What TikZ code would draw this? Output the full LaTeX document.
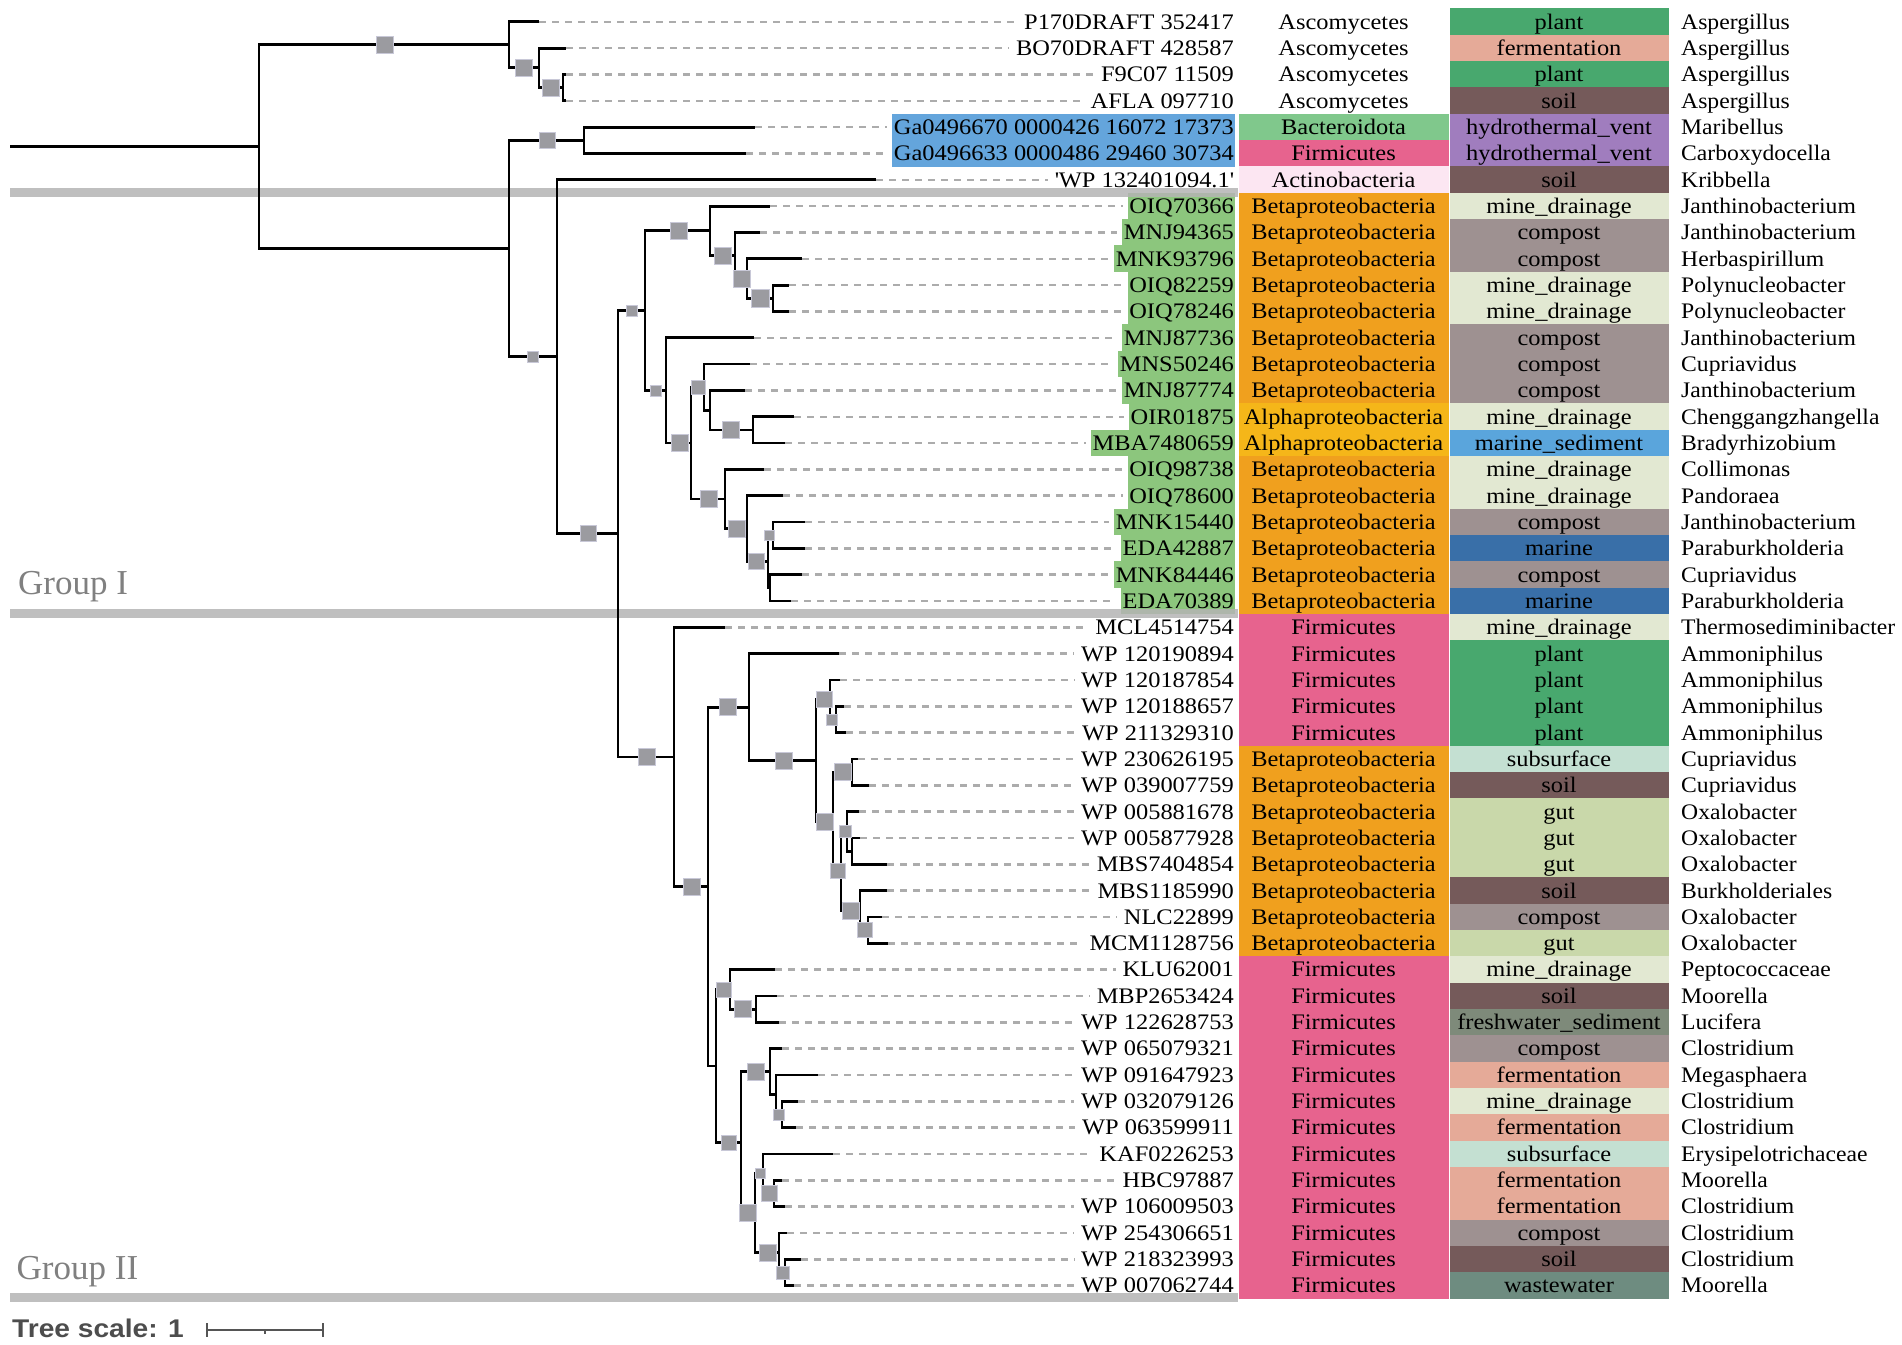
\documentclass[tikz,border=0pt]{standalone}
\usepackage{fontspec}
\setmainfont{Liberation Serif}[FakeStretch=1.1]
\newfontfamily\genfont{Liberation Serif}[FakeStretch=1.065]
\newfontfamily\grpfont{Liberation Serif}
\newfontfamily\scalesans{Liberation Sans}[FakeStretch=1.1]
\definecolor{sqgray}{RGB}{155,155,160}
\definecolor{sqedge}{RGB}{200,200,215}
\definecolor{dashc}{RGB}{172,172,172}
\definecolor{barc}{RGB}{180,180,180}
\definecolor{grouptext}{RGB}{128,128,128}
\definecolor{scalec}{RGB}{85,85,85}
\definecolor{scaletext}{RGB}{77,77,77}
\definecolor{lblue}{RGB}{100,165,220}
\definecolor{lgreen}{RGB}{140,198,125}
\definecolor{betac}{RGB}{240,160,30}
\definecolor{alphac}{RGB}{245,182,25}
\definecolor{firmc}{RGB}{231,99,142}
\definecolor{bacteroc}{RGB}{128,200,140}
\definecolor{actinoc}{RGB}{252,230,242}
\definecolor{plantc}{RGB}{72,168,110}
\definecolor{fermc}{RGB}{229,170,152}
\definecolor{soilc}{RGB}{117,90,90}
\definecolor{hydroc}{RGB}{160,125,190}
\definecolor{minec}{RGB}{226,232,210}
\definecolor{compostc}{RGB}{158,145,145}
\definecolor{marsedc}{RGB}{90,165,220}
\definecolor{marinec}{RGB}{57,111,168}
\definecolor{subsurfc}{RGB}{196,224,210}
\definecolor{gutc}{RGB}{201,216,170}
\definecolor{freshsedc}{RGB}{126,138,122}
\definecolor{wastec}{RGB}{110,140,128}
\newcommand\lblfont{\fontsize{22.2}{24}\selectfont}
\newcommand\mklab[3]{\node[leaflab,#2] (lab#1) at (1235.5,#1) {#3};}
\newcommand\mkcell[6]{%
  \node[phcell, fill=#2] (ph#1) at (1343.5,#1) {#3};
  \node[envcell, fill=#4] (env#1) at (1559,#1) {#5};
  \node[genlab] (gen#1) at (1681,#1) {#6};}
\begin{document}
\begin{tikzpicture}[x=1pt,y=-1pt,
  branch/.style={line width=2.8pt, black},
  dashline/.style={line width=2.5pt, dashc, dash pattern=on 7pt off 6pt},
  bs/.style={rectangle, fill=sqgray, draw=sqedge, line width=0.7pt, inner sep=0pt},
  txt/.style={inner ysep=0pt, text height=20pt, text depth=5.4pt, minimum height=26.7pt, font=\lblfont},
  leaflab/.style={txt, anchor=east, inner xsep=1.5pt},
  phcell/.style={txt, inner xsep=0pt, minimum width=210pt},
  envcell/.style={txt, inner xsep=0pt, minimum width=219pt},
  genlab/.style={txt, anchor=west, inner xsep=0pt, font=\genfont\lblfont},
  bar/.style={line width=8.5pt, barc, opacity=0.85},
  grouplab/.style={anchor=base west, inner sep=0pt, text=grouptext, font=\grpfont\fontsize{35}{38}\selectfont},
  sbar/.style={line width=2pt, scalec}
]
\useasboundingbox (0,0) rectangle (1902,1344);
\fill[white] (0,0) rectangle (1902,1344);
\begin{scope}[y=-26.33pt, yshift=4.53pt]
% ---------- annotation columns ----------
\mkcell{1}{white}{Ascomycetes}{plantc}{plant}{Aspergillus}
\mkcell{2}{white}{Ascomycetes}{fermc}{fermentation}{Aspergillus}
\mkcell{3}{white}{Ascomycetes}{plantc}{plant}{Aspergillus}
\mkcell{4}{white}{Ascomycetes}{soilc}{soil}{Aspergillus}
\mkcell{5}{bacteroc}{Bacteroidota}{hydroc}{hydrothermal\_vent}{Maribellus}
\mkcell{6}{firmc}{Firmicutes}{hydroc}{hydrothermal\_vent}{Carboxydocella}
\mkcell{7}{actinoc}{Actinobacteria}{soilc}{soil}{Kribbella}
\mkcell{8}{betac}{Betaproteobacteria}{minec}{mine\_drainage}{Janthinobacterium}
\mkcell{9}{betac}{Betaproteobacteria}{compostc}{compost}{Janthinobacterium}
\mkcell{10}{betac}{Betaproteobacteria}{compostc}{compost}{Herbaspirillum}
\mkcell{11}{betac}{Betaproteobacteria}{minec}{mine\_drainage}{Polynucleobacter}
\mkcell{12}{betac}{Betaproteobacteria}{minec}{mine\_drainage}{Polynucleobacter}
\mkcell{13}{betac}{Betaproteobacteria}{compostc}{compost}{Janthinobacterium}
\mkcell{14}{betac}{Betaproteobacteria}{compostc}{compost}{Cupriavidus}
\mkcell{15}{betac}{Betaproteobacteria}{compostc}{compost}{Janthinobacterium}
\mkcell{16}{alphac}{Alphaproteobacteria}{minec}{mine\_drainage}{Chenggangzhangella}
\mkcell{17}{alphac}{Alphaproteobacteria}{marsedc}{marine\_sediment}{Bradyrhizobium}
\mkcell{18}{betac}{Betaproteobacteria}{minec}{mine\_drainage}{Collimonas}
\mkcell{19}{betac}{Betaproteobacteria}{minec}{mine\_drainage}{Pandoraea}
\mkcell{20}{betac}{Betaproteobacteria}{compostc}{compost}{Janthinobacterium}
\mkcell{21}{betac}{Betaproteobacteria}{marinec}{marine}{Paraburkholderia}
\mkcell{22}{betac}{Betaproteobacteria}{compostc}{compost}{Cupriavidus}
\mkcell{23}{betac}{Betaproteobacteria}{marinec}{marine}{Paraburkholderia}
\mkcell{24}{firmc}{Firmicutes}{minec}{mine\_drainage}{Thermosediminibacter}
\mkcell{25}{firmc}{Firmicutes}{plantc}{plant}{Ammoniphilus}
\mkcell{26}{firmc}{Firmicutes}{plantc}{plant}{Ammoniphilus}
\mkcell{27}{firmc}{Firmicutes}{plantc}{plant}{Ammoniphilus}
\mkcell{28}{firmc}{Firmicutes}{plantc}{plant}{Ammoniphilus}
\mkcell{29}{betac}{Betaproteobacteria}{subsurfc}{subsurface}{Cupriavidus}
\mkcell{30}{betac}{Betaproteobacteria}{soilc}{soil}{Cupriavidus}
\mkcell{31}{betac}{Betaproteobacteria}{gutc}{gut}{Oxalobacter}
\mkcell{32}{betac}{Betaproteobacteria}{gutc}{gut}{Oxalobacter}
\mkcell{33}{betac}{Betaproteobacteria}{gutc}{gut}{Oxalobacter}
\mkcell{34}{betac}{Betaproteobacteria}{soilc}{soil}{Burkholderiales}
\mkcell{35}{betac}{Betaproteobacteria}{compostc}{compost}{Oxalobacter}
\mkcell{36}{betac}{Betaproteobacteria}{gutc}{gut}{Oxalobacter}
\mkcell{37}{firmc}{Firmicutes}{minec}{mine\_drainage}{Peptococcaceae}
\mkcell{38}{firmc}{Firmicutes}{soilc}{soil}{Moorella}
\mkcell{39}{firmc}{Firmicutes}{freshsedc}{freshwater\_sediment}{Lucifera}
\mkcell{40}{firmc}{Firmicutes}{compostc}{compost}{Clostridium}
\mkcell{41}{firmc}{Firmicutes}{fermc}{fermentation}{Megasphaera}
\mkcell{42}{firmc}{Firmicutes}{minec}{mine\_drainage}{Clostridium}
\mkcell{43}{firmc}{Firmicutes}{fermc}{fermentation}{Clostridium}
\mkcell{44}{firmc}{Firmicutes}{subsurfc}{subsurface}{Erysipelotrichaceae}
\mkcell{45}{firmc}{Firmicutes}{fermc}{fermentation}{Moorella}
\mkcell{46}{firmc}{Firmicutes}{fermc}{fermentation}{Clostridium}
\mkcell{47}{firmc}{Firmicutes}{compostc}{compost}{Clostridium}
\mkcell{48}{firmc}{Firmicutes}{soilc}{soil}{Clostridium}
\mkcell{49}{firmc}{Firmicutes}{wastec}{wastewater}{Moorella}
% ---------- leaf labels ----------
\mklab{1}{}{P170DRAFT 352417}
\mklab{2}{}{BO70DRAFT 428587}
\mklab{3}{}{F9C07 11509}
\mklab{4}{}{AFLA 097710}
\mklab{5}{fill=lblue}{Ga0496670 0000426 16072 17373}
\mklab{6}{fill=lblue}{Ga0496633 0000486 29460 30734}
\mklab{7}{}{\textquotesingle WP 132401094.1\textquotesingle}
\mklab{8}{fill=lgreen}{OIQ70366}
\mklab{9}{fill=lgreen}{MNJ94365}
\mklab{10}{fill=lgreen}{MNK93796}
\mklab{11}{fill=lgreen}{OIQ82259}
\mklab{12}{fill=lgreen}{OIQ78246}
\mklab{13}{fill=lgreen}{MNJ87736}
\mklab{14}{fill=lgreen}{MNS50246}
\mklab{15}{fill=lgreen}{MNJ87774}
\mklab{16}{fill=lgreen}{OIR01875}
\mklab{17}{fill=lgreen}{MBA7480659}
\mklab{18}{fill=lgreen}{OIQ98738}
\mklab{19}{fill=lgreen}{OIQ78600}
\mklab{20}{fill=lgreen}{MNK15440}
\mklab{21}{fill=lgreen}{EDA42887}
\mklab{22}{fill=lgreen}{MNK84446}
\mklab{23}{fill=lgreen}{EDA70389}
\mklab{24}{}{MCL4514754}
\mklab{25}{}{WP 120190894}
\mklab{26}{}{WP 120187854}
\mklab{27}{}{WP 120188657}
\mklab{28}{}{WP 211329310}
\mklab{29}{}{WP 230626195}
\mklab{30}{}{WP 039007759}
\mklab{31}{}{WP 005881678}
\mklab{32}{}{WP 005877928}
\mklab{33}{}{MBS7404854}
\mklab{34}{}{MBS1185990}
\mklab{35}{}{NLC22899}
\mklab{36}{}{MCM1128756}
\mklab{37}{}{KLU62001}
\mklab{38}{}{MBP2653424}
\mklab{39}{}{WP 122628753}
\mklab{40}{}{WP 065079321}
\mklab{41}{}{WP 091647923}
\mklab{42}{}{WP 032079126}
\mklab{43}{}{WP 063599911}
\mklab{44}{}{KAF0226253}
\mklab{45}{}{HBC97887}
\mklab{46}{}{WP 106009503}
\mklab{47}{}{WP 254306651}
\mklab{48}{}{WP 218323993}
\mklab{49}{}{WP 007062744}
% ---------- group separator bars ----------
\draw[bar] (10,7.49) -- (1238,7.49);
\draw[bar] (10,23.48) -- (1238,23.48);
\draw[bar] (10,49.45) -- (1238,49.45);
% ---------- tree: internal nodes ----------
\coordinate (r0) at (10,5.743);
\coordinate (root) at (259,5.743);
\coordinate (fun) at (509,1.875);
\coordinate (f1) at (539,2.75);
\coordinate (f2) at (563,3.5);
\coordinate (n509) at (509,9.611);
\coordinate (gb) at (584,5.5);
\coordinate (n557) at (557,13.7227);
\coordinate (n618) at (618,20.4453);
\coordinate (gI) at (645,11.96875);
\coordinate (a1) at (710,8.9375);
\coordinate (a2) at (735,9.875);
\coordinate (a3) at (747,10.75);
\coordinate (a4) at (773,11.5);
\coordinate (b1) at (666,15);
\coordinate (b2) at (691,17);
\coordinate (b3) at (704,14.875);
\coordinate (b4) at (710,15.75);
\coordinate (b5) at (753,16.5);
\coordinate (c1) at (725,19.125);
\coordinate (c2) at (747,20.25);
\coordinate (c3) at (768,21.5);
\coordinate (c4) at (773,20.5);
\coordinate (c5) at (770,22.5);
\coordinate (gII) at (674,28.921875);
\coordinate (d1) at (708,33.84375);
\coordinate (d2) at (749,27.03125);
\coordinate (d3) at (816,29.0625);
\coordinate (d4) at (830,26.75);
\coordinate (d5) at (836,27.5);
\coordinate (d6) at (833,31.375);
\coordinate (d7) at (852,29.5);
\coordinate (d8) at (841,33.25);
\coordinate (d9) at (847,31.75);
\coordinate (d10) at (852,32.5);
\coordinate (d11) at (860,34.75);
\coordinate (d12) at (868,35.5);
\coordinate (k1) at (716,40.65625);
\coordinate (k2) at (730,37.75);
\coordinate (k3) at (756,38.5);
\coordinate (k4) at (741,43.5625);
\coordinate (k5) at (770,40.875);
\coordinate (k6) at (776,41.75);
\coordinate (k7) at (782,42.5);
\coordinate (k8) at (755,46.25);
\coordinate (k9) at (763,44.75);
\coordinate (k10) at (774,45.5);
\coordinate (k11) at (779,47.75);
\coordinate (k12) at (785,48.5);
\draw[branch] (r0) -- (root);
\foreach \p/\c in {root/fun, root/n509, fun/f1, f1/f2, n509/gb, n509/n557, n557/n618,
  n618/gI, n618/gII, gI/a1, gI/b1, a1/a2, a2/a3, a3/a4, b1/b2, b2/b3, b2/c1, b3/b4, b4/b5,
  c1/c2, c2/c3, c3/c4, c3/c5, gII/d1, d1/d2, d1/k1, d2/d3, d3/d4, d3/d6, d4/d5, d6/d7, d6/d8,
  d8/d9, d8/d11, d9/d10, d11/d12, k1/k2, k1/k4, k2/k3, k4/k5, k4/k8, k5/k6, k6/k7, k8/k9,
  k8/k11, k9/k10, k11/k12}
  \draw[branch] (\p) |- (\c);
% ---------- leaves ----------
\foreach \r/\p/\x in {1/fun/539, 2/f1/566, 3/f2/566, 4/f2/566, 5/gb/755, 6/gb/746, 7/n557/876,
  8/a1/770, 9/a2/760, 10/a3/802, 11/a4/789, 12/a4/789, 13/b1/754, 14/b3/750, 15/b4/745,
  16/b5/794, 17/b5/785, 18/c1/764, 19/c2/783, 20/c4/805, 21/c4/805, 22/c5/802, 23/c5/791,
  24/gII/725, 25/d2/839, 26/d4/840, 27/d5/844, 28/d5/846, 29/d7/858, 30/d7/869, 31/d9/859,
  32/d10/860, 33/d10/887, 34/d11/887, 35/d12/882, 36/d12/888, 37/k2/775, 38/k3/777,
  39/k3/779, 40/k5/782, 41/k6/818, 42/k7/798, 43/k7/796, 44/k9/833, 45/k10/782, 46/k10/785,
  47/k11/787, 48/k12/801, 49/k12/794}
{
  \coordinate (t\r) at (\x,\r);
  \draw[dashline] (t\r) -- ([xshift=-5pt]lab\r.west);
  \draw[branch] (\p) |- (t\r);
}
% ---------- bootstrap squares ----------
\foreach \x/\r/\s [count=\n] in {385/1.875/17, 524/2.75/17, 551/3.5/17, 547/5.5/16,
  533/13.7227/11, 588/20.4453/16, 632/11.96875/11, 679/8.9375/17, 723/9.875/17, 742/10.75/17,
  760/11.5/18, 656/15/11, 680/17/17, 698/14.875/14, 731/16.5/17, 709/19.125/17, 737/20.25/17,
  756/21.5/16, 769/20.5/10, 647/28.921875/17, 692/33.84375/17, 728/27.03125/17,
  784/29.0625/17, 824/26.75/16, 832/27.5/11, 825/31.375/17, 843/29.5/17, 838/33.25/15,
  845/31.75/12, 851/34.75/17, 865/35.5/15, 724/37.75/15, 743/38.5/17, 729/43.5625/15,
  756/40.875/17, 779/42.5/11, 748/46.25/17, 760/44.75/10, 769/45.5/16, 768/47.75/17,
  783/48.5/13}
  \node[bs, minimum size={\s*1pt}] (bs\n) at (\x,\r) {};
\end{scope}
% ---------- group labels and scale ----------
\node[grouplab] (grpI) at (18,594) {Group I};
\node[grouplab] (grpII) at (16.5,1279) {Group II};
\node[anchor=base west, inner sep=0pt, text=scaletext, font=\scalesans\bfseries\fontsize{25.6}{28}\selectfont] (scl) at (12,1337) {Tree scale: 1};
\coordinate (sb1) at (207,1330);
\coordinate (sb2) at (323,1330);
\coordinate (sbm) at (265,1330);
\draw[sbar] (sb1) -- (sb2);
\draw[sbar] (207,1323) -- (207,1337);
\draw[sbar] (323,1323) -- (323,1337);
\draw[sbar] (sbm) -- (265,1334);
\end{tikzpicture}
\end{document}
